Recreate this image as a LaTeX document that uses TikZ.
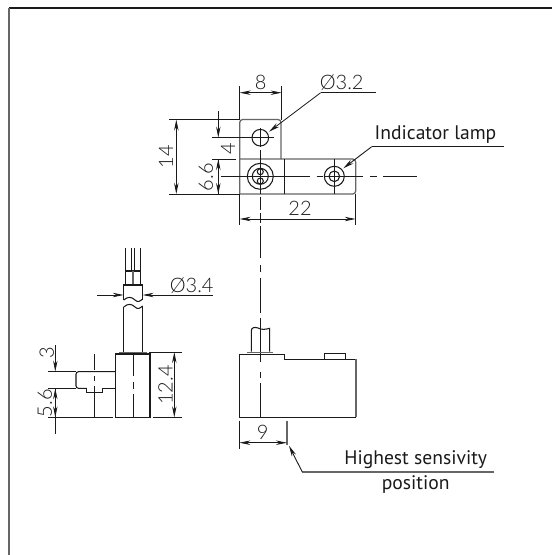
\documentclass[tikz,border=0pt]{standalone}
\usepackage{fontspec}
\setmainfont{PT Sans}
\newfontfamily\dimfont[UprightFont=* Light]{Lato}
\usetikzlibrary{arrows.meta}
\definecolor{ink}{HTML}{1A1A1A}
\definecolor{soft}{HTML}{666666}
\tikzset{
  part/.style={draw=ink,line width=1.05pt},
  thin part/.style={draw=ink,line width=0.85pt},
  greyline/.style={draw=soft,line width=1.3pt},
  ext/.style={draw=ink,line width=0.8pt},
  dimline/.style={draw=ink,line width=0.8pt,{Stealth[length=11pt,width=4.4pt]}-{Stealth[length=11pt,width=4.4pt]}},
  tipend/.style={draw=ink,line width=0.8pt,-{Stealth[length=11pt,width=4.4pt]}},
  leader/.style={draw=ink,line width=0.9pt,-{Stealth[length=11pt,width=4.6pt]}},
  dimtext/.style={font=\dimfont\fontsize{20}{20}\selectfont,text=ink,inner sep=0pt},
  labeltext/.style={font=\fontsize{19.6}{21}\selectfont,text=ink,inner sep=0pt},
}
\begin{document}
\begin{tikzpicture}[x=1pt,y=-1pt]
\useasboundingbox (0,0) rectangle (552,555);
\fill[white] (0,0) rectangle (552,555);
% frame
\draw[draw=ink,line width=1.2pt] (9,8) -- (552,8);
\draw[draw=soft,line width=1.6pt] (9,8) -- (9,555);

% --- top view plate
\draw[greyline,rounded corners=3pt] (239.7,194) -- (239.7,119.5) -- (281,119.5) -- (281,159);
\draw[greyline,rounded corners=3pt] (239.7,159) -- (355.7,159) -- (355.7,194) -- (239.7,194);
\draw[part] (284.3,159) -- (284.3,194);
\draw[part] (260.3,137.7) circle (8.3);
\draw[part] (260.3,176.3) circle (13);
\draw[part] (260.3,176.3) circle (8);
\draw[part] (260.3,171.7) circle (3);
\draw[part] (260.3,181) circle (3);
\draw[part] (334.3,176.3) circle (10);
\draw[part] (334.3,176.3) circle (5.3);
% centre lines top view
\draw[thin part] (212,137.7) -- (274,137.7);
\draw[thin part] (260.3,128) -- (260.3,147);
\draw[thin part] (260.3,150) -- (260.3,194);
\draw[thin part] (334.3,159) -- (334.3,194);
\draw[thin part] (221.3,176.3) -- (310,176.3);
\draw[thin part] (316.7,176.3) -- (323,176.3);
\draw[thin part] (324,176.3) -- (363.3,176.3);
\draw[thin part] (370,176.3) -- (376.7,176.3);
\draw[thin part] (383,176.3) -- (417,176.3);
% long vertical centre line
\draw[thin part] (260.5,196.7) -- (260.5,210);
\draw[thin part] (260.5,213) -- (260.5,223);
\draw[thin part] (260.5,226) -- (260.5,258.3);
\draw[thin part] (260.5,265) -- (260.5,272.3);
\draw[thin part] (260.5,278.3) -- (260.5,312.7);
\draw[thin part] (260.5,318) -- (260.5,361.7);
\draw[thin part] (260.5,371.7) -- (260.5,378);
\draw[thin part] (260.5,383) -- (260.5,417.3);

% dims top view
\coordinate (e8a) at (239.7,86); \coordinate (e8b) at (281.7,86);
\draw[ext] (e8a) -- (239.7,119.5);
\draw[ext] (e8b) -- (281.7,119.5);
\draw[dimline] (239.7,92.7) -- (281.7,92.7);
\node[dimtext] (t8) at (260.7,82.5) {8};
\draw[ext] (169.3,119.5) -- (239,119.5);
\draw[ext] (169.3,194) -- (239,194);
\draw[dimline] (176.3,119.5) -- (176.3,194);
\node[dimtext,rotate=90] (t14) at (166,156.7) {14};
\draw[tipend] (218.3,111) -- (218.3,137.7);
\draw[tipend] (218.3,194) -- (218.3,159);
\draw[tipend] (218.3,159) -- (218.3,194);
\draw[ext] (212,159) -- (236,159);
\node[dimtext,rotate=90] (t4) at (228,148.3) {4};
\node[dimtext,rotate=90] (t66) at (206,177.3) {6.6};
\draw[ext] (239.7,194) -- (239.7,225);
\draw[ext] (355.7,194) -- (355.7,225);
\draw[dimline] (239.7,219) -- (355.7,219);
\node[dimtext] (t22) at (300,208.5) {22};
\coordinate (l32a) at (376,92.7); \coordinate (l32b) at (320.7,92.7);
\draw[ext] (l32a) -- (l32b);
\draw[leader,line width=0.8pt] (l32b) -- (269,131.7);
\node[dimtext] (t32) at (341.7,82.5) {Ø3.2};
\coordinate (la) at (504,146.7); \coordinate (lb) at (371.7,146.7);
\draw[draw=ink,line width=0.95pt] (la) -- (lb);
\draw[leader] (lb) -- (343.3,168.3);
\node[labeltext] (tlamp) at (435.5,135) {Indicator lamp};

% --- left view
\draw[thin part] (125.7,248.3) -- (125.7,271) (131,248.3) -- (131,271);
\draw[thin part] (134.7,248.3) -- (134.7,271) (140,248.3) -- (140,271);
\draw[part] (125.7,284.3) -- (125.7,271) -- (140.3,271) -- (140.3,284.3);
\draw[greyline] (133,271) -- (133,284.3);
\draw[part] (123.7,300) -- (123.7,285) -- (142.7,285) -- (142.7,300);
\draw[part] (123.7,300) .. controls (128,296) and (132,297) .. (135,300) .. controls (138,303) and (140,301) .. (142.7,299);
\draw[part] (123.7,307) .. controls (128,303) and (132,304) .. (135,307) .. controls (138,310) and (140,308) .. (142.7,306);
\draw[part] (123.7,307) -- (123.7,351.7) (142.7,306) -- (142.7,351.7);
\draw[draw=soft,line width=1.8pt] (119.3,352.5) -- (146.7,352.5);
\draw[part] (115.7,417.3) -- (115.7,354) -- (150,354) -- (150,417.3) -- cycle;
\draw[thin part] (133.3,354) -- (133.3,376) (133.3,382) -- (133.3,389) (133.3,394) -- (133.3,417.3);
\draw[part,rounded corners=2.5pt] (115.7,371.7) -- (76,371.7) -- (76,388.3) -- (86.7,388.3);
\draw[part] (86.7,388.3) -- (86.7,392.3) -- (102.3,392.3) -- (102.3,388.3) -- (115.7,388.3);
\draw[thin part] (94,354.3) -- (94,370) (94,376) -- (94,381) (94,386) -- (94,417.3);
\draw[ext] (48.3,371.7) -- (76,371.7);
\draw[ext] (48.3,388.3) -- (76,388.3);
\draw[ext] (48.3,417.3) -- (112.7,417.3);
\draw[tipend] (55.3,345) -- (55.3,371.7);
\draw[tipend] (55.3,417.3) -- (55.3,388.3);
\draw[tipend] (55.3,388.3) -- (55.3,417.3);
\draw[ext] (55.3,417.3) -- (55.3,434);
\node[dimtext,rotate=90] (t3) at (46.7,352.3) {3};
\node[dimtext,rotate=90] (t56) at (45,403.3) {5.6};
\draw[ext] (149.3,352) -- (181.7,352);
\draw[ext] (153.3,417.3) -- (181.7,417.3);
\draw[dimline] (174.3,352) -- (174.3,417.3);
\node[dimtext,rotate=90] (t124) at (165.5,385) {12.4};
\draw[tipend] (97.3,295) -- (123.7,295);
\draw[tipend] (212.7,295) -- (142.7,295);
\node[dimtext] (t34) at (191.7,285.5) {Ø3.4};

% --- front view
\draw[part] (239.3,417.3) -- (239.3,354.3) -- (284.3,354.3) -- (284.3,359.3) -- (356,359.3);
\draw[greyline] (356,359.3) -- (356,417.3);
\draw[part] (356,417.3) -- (239.3,417.3);
\draw[thin part] (324.3,359.3) -- (324.3,353.3) -- (345,353.3) -- (345,359.3);
\draw[draw=soft,line width=1.8pt] (247.3,352.5) -- (273.3,352.5);
\draw[part] (251.3,351.7) -- (251.3,331) .. controls (251.3,327) and (255,327) .. (258,328) .. controls (262,330) and (265,329.5) .. (269.7,328.3) -- (269.7,351.7);
\draw[ext] (239.3,420.7) -- (239.3,449.3);
\draw[greyline] (287,420.7) -- (287,445);
\draw[dimline] (239.3,442.7) -- (287,442.7);
\node[dimtext] (t9) at (262.7,432.5) {9};
\coordinate (ha) at (494,472); \coordinate (hb) at (302.3,472);
\draw[greyline] (ha) -- (hb);
\draw[leader] (hb) -- (289,445.7);
\node[labeltext] (thigh) at (415.7,459.5) {Highest sensivity};
\node[labeltext] (tpos) at (415.7,485) {position};
\end{tikzpicture}
\end{document}
